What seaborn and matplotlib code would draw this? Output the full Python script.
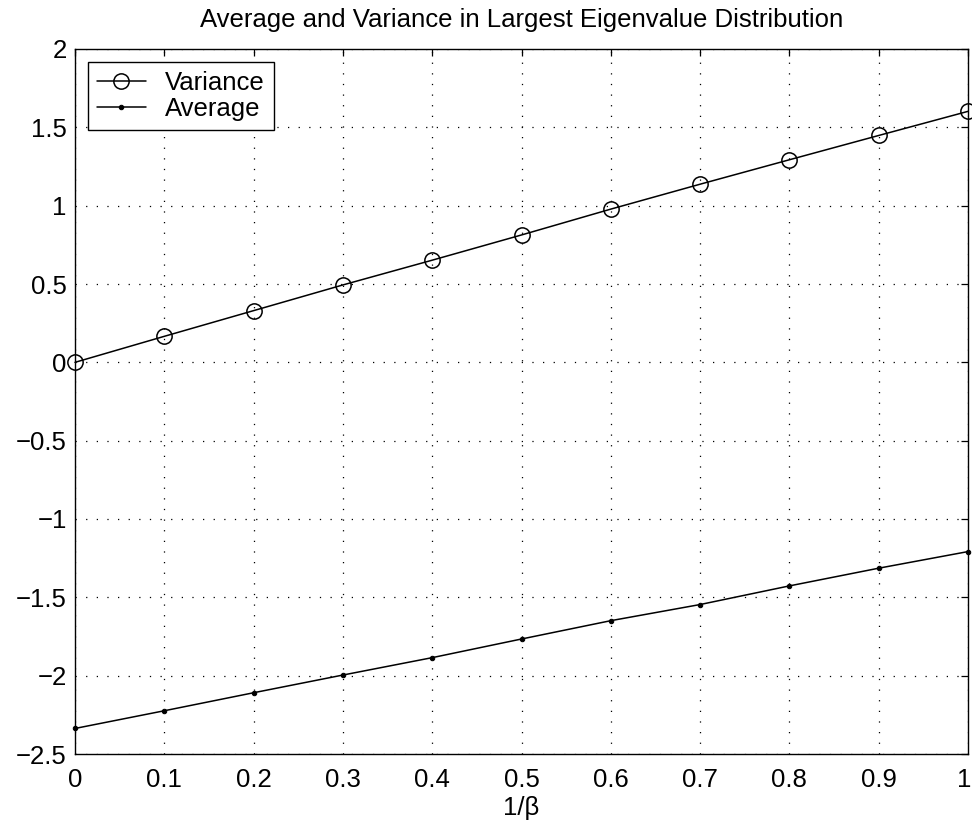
import numpy as np
import pandas as pd
import seaborn as sns
import matplotlib
matplotlib.use("Agg")
import matplotlib.pyplot as plt
import matplotlib.transforms as mtransforms

# values
inv_beta = [0.0, 0.1, 0.2, 0.3, 0.4, 0.5, 0.6, 0.7, 0.8, 0.9, 1.0]
variance = [0.0, 0.166, 0.330, 0.494, 0.652, 0.813, 0.978, 1.137, 1.293, 1.448, 1.602]
average = [-2.337, -2.224, -2.109, -1.996, -1.885, -1.766, -1.649, -1.546, -1.427, -1.314, -1.208]

x_ticks = [0, 0.1, 0.2, 0.3, 0.4, 0.5, 0.6, 0.7, 0.8, 0.9, 1]
x_ticklabels = ["0", "0.1", "0.2", "0.3", "0.4", "0.5", "0.6", "0.7", "0.8", "0.9", "1"]
y_ticks = [-2.5, -2, -1.5, -1, -0.5, 0, 0.5, 1, 1.5, 2]
y_ticklabels = ["\u22122.5", "\u22122", "\u22121.5", "\u22121", "\u22120.5", "0", "0.5", "1", "1.5", "2"]

df = pd.DataFrame({"inv_beta": inv_beta, "Variance": variance, "Average": average})

sns.set_style("white")
plt.rcParams["font.family"] = ["Liberation Sans", "DejaVu Sans"]
plt.rcParams["text.color"] = "black"
plt.rcParams["axes.labelcolor"] = "black"
fs = 18.5

fig = plt.figure(figsize=(9.72, 8.25), dpi=100)
ax = fig.add_axes([75 / 972, 1 - 754 / 825, 893 / 972, 705 / 825])

sns.lineplot(data=df, x="inv_beta", y="Variance", ax=ax, color="black", lw=1.1,
             marker="o", markersize=11, markerfacecolor="none",
             markeredgecolor="black", markeredgewidth=1.1, label="Variance", clip_on=False)
sns.lineplot(data=df, x="inv_beta", y="Average", ax=ax, color="black", lw=1.1,
             marker="o", markersize=3.2, markerfacecolor="black",
             markeredgecolor="black", label="Average", clip_on=False)

ax.set_xlim(0, 1)
ax.set_ylim(-2.5, 2)
ax.set_xticks(x_ticks)
ax.set_xticklabels(x_ticklabels)
ax.set_yticks(y_ticks)
ax.set_yticklabels(y_ticklabels)
ax.tick_params(direction="in", length=5, width=0.9, top=True, right=True,
               labelsize=fs, colors="black")
ax.tick_params(axis="x", pad=10)
ax.tick_params(axis="y", pad=6)

# last x label sits on the figure edge, nudge it a bit left so it stays inside
last = ax.get_xticklabels()[-1]
last.set_transform(last.get_transform() + mtransforms.ScaledTranslation(-4 / 100, 0, fig.dpi_scale_trans))

ax.grid(True, color="black", linestyle=(0, (1, 7.5)), linewidth=0.9)
for s in ax.spines.values():
    s.set_color("black")
    s.set_linewidth(1.0)

ax.set_xlabel("1/\u03b2", fontsize=fs, labelpad=3, color="black")
ax.set_ylabel("")
ax.set_title("Average and Variance in Largest Eigenvalue Distribution", fontsize=fs, pad=16, color="black")

leg = ax.legend(loc="upper left", fontsize=fs, frameon=True, fancybox=False,
                edgecolor="black", framealpha=1, borderpad=0.35, labelspacing=0.08,
                handlelength=1.9, handletextpad=0.75, borderaxespad=0.5)
leg.get_frame().set_linewidth(1.0)
for t in leg.get_texts():
    t.set_color("black")

fig.savefig("out.png", dpi=100)
